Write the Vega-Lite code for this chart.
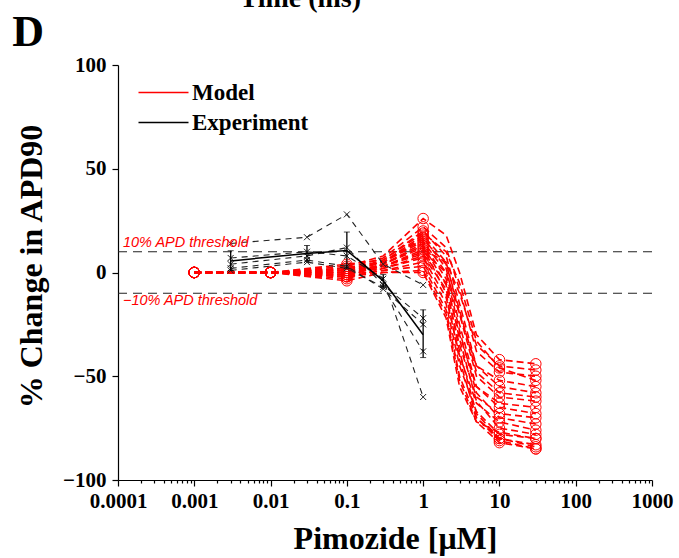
{
  "$schema": "https://vega.github.io/schema/vega-lite/v6.json",
  "width": 534,
  "height": 415,
  "autosize": {"type": "none"},
  "padding": {"left": 118, "top": 65, "right": 27, "bottom": 78},
  "background": "white",
  "config": {
    "view": {"stroke": null},
    "axis": {"grid": false, "domainColor": "black", "tickColor": "black", "labelColor": "black", "titleColor": "black", "labelFont": "Liberation Serif", "labelFontWeight": "bold", "labelFontSize": 21, "titleFont": "Liberation Serif", "titleFontWeight": "bold", "titleFontSize": 32, "tickSize": 6, "domainWidth": 1.2, "tickWidth": 1.2}
  },
  "datasets": {
    "model": [
      {"id":1,"c":0.001,"v":0},{"id":1,"c":0.01,"v":0},{"id":1,"c":0.1,"v":3},{"id":1,"c":0.3,"v":8},{"id":1,"c":1,"v":26},{"id":1,"c":2,"v":18},{"id":1,"c":3,"v":0},{"id":1,"c":5,"v":-30},{"id":1,"c":10,"v":-42},{"id":1,"c":30,"v":-44},
      {"id":2,"c":0.001,"v":0},{"id":2,"c":0.01,"v":0},{"id":2,"c":0.1,"v":2},{"id":2,"c":0.3,"v":7},{"id":2,"c":1,"v":22},{"id":2,"c":2,"v":12},{"id":2,"c":3,"v":-8},{"id":2,"c":5,"v":-38},{"id":2,"c":10,"v":-48},{"id":2,"c":30,"v":-50},
      {"id":3,"c":0.001,"v":0},{"id":3,"c":0.01,"v":0},{"id":3,"c":0.1,"v":1},{"id":3,"c":0.3,"v":6},{"id":3,"c":1,"v":20},{"id":3,"c":2,"v":8},{"id":3,"c":3,"v":-15},{"id":3,"c":5,"v":-45},{"id":3,"c":10,"v":-55},{"id":3,"c":30,"v":-58},
      {"id":4,"c":0.001,"v":0},{"id":4,"c":0.01,"v":0},{"id":4,"c":0.1,"v":2},{"id":4,"c":0.3,"v":5},{"id":4,"c":1,"v":18},{"id":4,"c":2,"v":5},{"id":4,"c":3,"v":-20},{"id":4,"c":5,"v":-50},{"id":4,"c":10,"v":-60},{"id":4,"c":30,"v":-62},
      {"id":5,"c":0.001,"v":0},{"id":5,"c":0.01,"v":0},{"id":5,"c":0.1,"v":0},{"id":5,"c":0.3,"v":5},{"id":5,"c":1,"v":17},{"id":5,"c":2,"v":2},{"id":5,"c":3,"v":-25},{"id":5,"c":5,"v":-55},{"id":5,"c":10,"v":-65},{"id":5,"c":30,"v":-68},
      {"id":6,"c":0.001,"v":0},{"id":6,"c":0.01,"v":0},{"id":6,"c":0.1,"v":1},{"id":6,"c":0.3,"v":5},{"id":6,"c":1,"v":15},{"id":6,"c":2,"v":0},{"id":6,"c":3,"v":-28},{"id":6,"c":5,"v":-58},{"id":6,"c":10,"v":-70},{"id":6,"c":30,"v":-73},
      {"id":7,"c":0.001,"v":0},{"id":7,"c":0.01,"v":0},{"id":7,"c":0.1,"v":-1},{"id":7,"c":0.3,"v":4},{"id":7,"c":1,"v":14},{"id":7,"c":2,"v":-3},{"id":7,"c":3,"v":-32},{"id":7,"c":5,"v":-62},{"id":7,"c":10,"v":-75},{"id":7,"c":30,"v":-78},
      {"id":8,"c":0.001,"v":0},{"id":8,"c":0.01,"v":0},{"id":8,"c":0.1,"v":0},{"id":8,"c":0.3,"v":4},{"id":8,"c":1,"v":13},{"id":8,"c":2,"v":-6},{"id":8,"c":3,"v":-38},{"id":8,"c":5,"v":-68},{"id":8,"c":10,"v":-80},{"id":8,"c":30,"v":-83},
      {"id":9,"c":0.001,"v":0},{"id":9,"c":0.01,"v":0},{"id":9,"c":0.1,"v":-2},{"id":9,"c":0.3,"v":4},{"id":9,"c":1,"v":12},{"id":9,"c":2,"v":-10},{"id":9,"c":3,"v":-42},{"id":9,"c":5,"v":-70},{"id":9,"c":10,"v":-81},{"id":9,"c":30,"v":-85},
      {"id":10,"c":0.001,"v":0},{"id":10,"c":0.01,"v":0},{"id":10,"c":0.1,"v":1},{"id":10,"c":0.3,"v":3},{"id":10,"c":1,"v":11},{"id":10,"c":2,"v":5},{"id":10,"c":3,"v":-10},{"id":10,"c":5,"v":-35},{"id":10,"c":10,"v":-45},{"id":10,"c":30,"v":-47},
      {"id":11,"c":0.001,"v":0},{"id":11,"c":0.01,"v":0},{"id":11,"c":0.1,"v":0},{"id":11,"c":0.3,"v":3},{"id":11,"c":1,"v":10},{"id":11,"c":2,"v":0},{"id":11,"c":3,"v":-20},{"id":11,"c":5,"v":-45},{"id":11,"c":10,"v":-52},{"id":11,"c":30,"v":-55},
      {"id":12,"c":0.001,"v":0},{"id":12,"c":0.01,"v":0},{"id":12,"c":0.1,"v":-1},{"id":12,"c":0.3,"v":3},{"id":12,"c":1,"v":9},{"id":12,"c":2,"v":-5},{"id":12,"c":3,"v":-30},{"id":12,"c":5,"v":-55},{"id":12,"c":10,"v":-63},{"id":12,"c":30,"v":-65},
      {"id":13,"c":0.001,"v":0},{"id":13,"c":0.01,"v":0},{"id":13,"c":0.1,"v":-3},{"id":13,"c":0.3,"v":2},{"id":13,"c":1,"v":8},{"id":13,"c":2,"v":-8},{"id":13,"c":3,"v":-35},{"id":13,"c":5,"v":-60},{"id":13,"c":10,"v":-68},{"id":13,"c":30,"v":-70},
      {"id":14,"c":0.001,"v":0},{"id":14,"c":0.01,"v":0},{"id":14,"c":0.1,"v":0},{"id":14,"c":0.3,"v":2},{"id":14,"c":1,"v":7},{"id":14,"c":2,"v":-12},{"id":14,"c":3,"v":-40},{"id":14,"c":5,"v":-63},{"id":14,"c":10,"v":-72},{"id":14,"c":30,"v":-76},
      {"id":15,"c":0.001,"v":0},{"id":15,"c":0.01,"v":0},{"id":15,"c":0.1,"v":-2},{"id":15,"c":0.3,"v":1},{"id":15,"c":1,"v":5},{"id":15,"c":2,"v":-15},{"id":15,"c":3,"v":-45},{"id":15,"c":5,"v":-67},{"id":15,"c":10,"v":-78},{"id":15,"c":30,"v":-80},
      {"id":16,"c":0.001,"v":0},{"id":16,"c":0.01,"v":0},{"id":16,"c":0.1,"v":-1},{"id":16,"c":0.3,"v":1},{"id":16,"c":1,"v":3},{"id":16,"c":2,"v":-18},{"id":16,"c":3,"v":-50},{"id":16,"c":5,"v":-70},{"id":16,"c":10,"v":-80},{"id":16,"c":30,"v":-84},
      {"id":17,"c":0.001,"v":0},{"id":17,"c":0.01,"v":0},{"id":17,"c":0.1,"v":-4},{"id":17,"c":0.3,"v":0},{"id":17,"c":1,"v":1},{"id":17,"c":2,"v":-20},{"id":17,"c":3,"v":-52},{"id":17,"c":5,"v":-72},{"id":17,"c":10,"v":-82},{"id":17,"c":30,"v":-85},
      {"id":18,"c":0.001,"v":0},{"id":18,"c":0.01,"v":0},{"id":18,"c":0.1,"v":-2},{"id":18,"c":0.3,"v":0},{"id":18,"c":1,"v":0},{"id":18,"c":2,"v":-22},{"id":18,"c":3,"v":-55},{"id":18,"c":5,"v":-72},{"id":18,"c":10,"v":-77},{"id":18,"c":30,"v":-80},
      {"id":19,"c":0.001,"v":0},{"id":19,"c":0.01,"v":0},{"id":19,"c":0.1,"v":4},{"id":19,"c":0.3,"v":6},{"id":19,"c":1,"v":19},{"id":19,"c":2,"v":10},{"id":19,"c":3,"v":-5},{"id":19,"c":5,"v":-33},{"id":19,"c":10,"v":-46},{"id":19,"c":30,"v":-52},
      {"id":20,"c":0.001,"v":0},{"id":20,"c":0.01,"v":0},{"id":20,"c":0.1,"v":2},{"id":20,"c":0.3,"v":5},{"id":20,"c":1,"v":16},{"id":20,"c":2,"v":4},{"id":20,"c":3,"v":-18},{"id":20,"c":5,"v":-48},{"id":20,"c":10,"v":-58},{"id":20,"c":30,"v":-60}
    ],
    "exp": [
      {"id":1,"c":0.003,"v":14},{"id":1,"c":0.03,"v":17},{"id":1,"c":0.1,"v":28},{"id":1,"c":0.3,"v":4},{"id":1,"c":1,"v":-6},
      {"id":2,"c":0.003,"v":7},{"id":2,"c":0.03,"v":10},{"id":2,"c":0.1,"v":8},{"id":2,"c":0.3,"v":-3},{"id":2,"c":1,"v":-60},
      {"id":3,"c":0.003,"v":4},{"id":3,"c":0.03,"v":8},{"id":3,"c":0.1,"v":12},{"id":3,"c":0.3,"v":-6},{"id":3,"c":1,"v":-22},
      {"id":4,"c":0.003,"v":2},{"id":4,"c":0.03,"v":6},{"id":4,"c":0.1,"v":3},{"id":4,"c":0.3,"v":-8},{"id":4,"c":1,"v":-25},
      {"id":5,"c":0.003,"v":1},{"id":5,"c":0.03,"v":5},{"id":5,"c":0.1,"v":2},{"id":5,"c":0.3,"v":-7},{"id":5,"c":1,"v":-38}
    ],
    "mean": [
      {"c":0.003,"m":5.6,"lo":1,"hi":10.5},
      {"c":0.03,"m":9.2,"lo":5.5,"hi":13},
      {"c":0.1,"m":10.6,"lo":2,"hi":19.5},
      {"c":0.3,"m":-4,"lo":-7,"hi":-1},
      {"c":1,"m":-30,"lo":-41,"hi":-18}
    ],
    "thr": [{"t":10,"label":"10% APD threshold"},{"t":-10,"label":"−10% APD threshold"}],
    "labels": [{"name":"D"},{"name":"Time (ms)"}]
  },
  "layer": [
    {
      "data": {"name": "thr"},
      "mark": {"type": "rule", "strokeDash": [9, 6], "color": "#222222", "strokeWidth": 1.2},
      "encoding": {
        "y": {"field": "t", "type": "quantitative", "scale": {"domain": [-100, 100], "nice": false},
          "axis": {"values": [-100, -50, 0, 50, 100], "title": "% Change in APD90", "titleX": -70, "titleY": 201, "labelPadding": 6}}
      }
    },
    {
      "data": {"name": "model"},
      "mark": {"type": "line", "strokeDash": [7, 4], "strokeWidth": 1.6},
      "encoding": {
        "x": {"field": "c", "type": "quantitative",
          "scale": {"type": "log", "domain": [0.0001, 1000], "nice": false},
          "axis": {"orient": "bottom", "title": "Pimozide [μM]", "titleX": 277,
            "values": [0.0001,0.0002,0.0003,0.0004,0.0005,0.0006,0.0007,0.0008,0.0009,0.001,0.002,0.003,0.004,0.005,0.006,0.007,0.008,0.009,0.01,0.02,0.03,0.04,0.05,0.06,0.07,0.08,0.09,0.1,0.2,0.3,0.4,0.5,0.6,0.7,0.8,0.9,1,2,3,4,5,6,7,8,9,10,20,30,40,50,60,70,80,90,100,200,300,400,500,600,700,800,900,1000],
            "labelExpr": "abs(log(datum.value)/LN10 - round(log(datum.value)/LN10)) < 1e-6 ? toString(datum.value) : ''",
            "tickSize": {"condition": {"test": "abs(log(datum.value)/LN10 - round(log(datum.value)/LN10)) < 1e-6", "value": 6}, "value": 3},
            "labelOverlap": false, "labelFlush": false, "labelPadding": 4, "titlePadding": 12}},
        "y": {"field": "v", "type": "quantitative", "title": "% Change in APD90"},
        "detail": {"field": "id"},
        "color": {"datum": "Model", "type": "nominal",
          "scale": {"domain": ["Model", "Experiment"], "range": ["#ff0000", "#000000"]},
          "legend": {"orient": "none", "legendX": 34, "legendY": 16, "title": null, "symbolType": "M-2.5,0H2.5", "symbolSize": 400, "symbolStrokeWidth": 1.3, "symbolDash": [], "symbolFillColor": "transparent", "labelFont": "Liberation Serif", "labelFontWeight": "bold", "labelFontSize": 23, "labelColor": "black", "labelOffset": 17, "padding": 0, "rowPadding": 6}}
      }
    },
    {
      "data": {"name": "model"},
      "transform": [{"filter": {"field": "c", "oneOf": [0.001, 0.01, 0.1, 1, 10, 30]}}],
      "mark": {"type": "point", "shape": "circle", "size": 110, "stroke": "#ff0000", "strokeWidth": 1, "filled": false, "opacity": 1},
      "encoding": {
        "x": {"field": "c", "type": "quantitative", "title": "Pimozide [μM]"},
        "y": {"field": "v", "type": "quantitative", "title": "% Change in APD90"}
      }
    },
    {
      "data": {"name": "exp"},
      "mark": {"type": "line", "strokeDash": [6, 5], "strokeWidth": 1.1, "color": "#222222"},
      "encoding": {
        "x": {"field": "c", "type": "quantitative", "title": "Pimozide [μM]"},
        "y": {"field": "v", "type": "quantitative", "title": "% Change in APD90"},
        "detail": {"field": "id"}
      }
    },
    {
      "data": {"name": "exp"},
      "mark": {"type": "point", "shape": "M-1,-1L1,1M-1,1L1,-1", "size": 36, "stroke": "#222222", "strokeWidth": 1, "filled": false, "opacity": 1},
      "encoding": {
        "x": {"field": "c", "type": "quantitative", "title": "Pimozide [μM]"},
        "y": {"field": "v", "type": "quantitative", "title": "% Change in APD90"}
      }
    },
    {
      "data": {"name": "mean"},
      "mark": {"type": "line", "strokeWidth": 1.5},
      "encoding": {
        "x": {"field": "c", "type": "quantitative", "title": "Pimozide [μM]"},
        "y": {"field": "m", "type": "quantitative", "title": "% Change in APD90"},
        "color": {"datum": "Experiment", "type": "nominal"}
      }
    },
    {
      "data": {"name": "mean"},
      "mark": {"type": "errorbar", "ticks": {"size": 6, "color": "black"}, "rule": {"color": "black", "strokeWidth": 1.3}},
      "encoding": {
        "x": {"field": "c", "type": "quantitative", "title": "Pimozide [μM]"},
        "y": {"field": "lo", "type": "quantitative", "title": "% Change in APD90"},
        "y2": {"field": "hi"}
      }
    },
    {
      "data": {"name": "thr"},
      "transform": [{"filter": "datum.t > 0"}],
      "mark": {"type": "text", "align": "left", "baseline": "alphabetic", "dy": -5, "font": "Liberation Sans", "fontStyle": "italic", "fontSize": 14.5, "color": "#ff0000"},
      "encoding": {
        "x": {"datum": 0.000116, "type": "quantitative"},
        "y": {"field": "t", "type": "quantitative", "title": "% Change in APD90"},
        "text": {"field": "label"}
      }
    },
    {
      "data": {"name": "thr"},
      "transform": [{"filter": "datum.t < 0"}],
      "mark": {"type": "text", "align": "left", "baseline": "top", "dy": 1, "font": "Liberation Sans", "fontStyle": "italic", "fontSize": 14.5, "color": "#ff0000"},
      "encoding": {
        "x": {"datum": 0.000116, "type": "quantitative"},
        "y": {"field": "t", "type": "quantitative", "title": "% Change in APD90"},
        "text": {"field": "label"}
      }
    },
    {
      "data": {"name": "labels"},
      "transform": [{"filter": "datum.name == 'D'"}],
      "mark": {"type": "text", "font": "Liberation Serif", "fontWeight": "bold", "fontSize": 44, "baseline": "alphabetic", "align": "left", "color": "black"},
      "encoding": {
        "x": {"datum": 0.0000041, "type": "quantitative"},
        "y": {"datum": 109.2, "type": "quantitative"},
        "text": {"field": "name"}
      }
    },
    {
      "data": {"name": "labels"},
      "transform": [{"filter": "datum.name != 'D'"}],
      "mark": {"type": "text", "font": "Liberation Serif", "fontWeight": "bold", "fontSize": 28, "baseline": "alphabetic", "align": "center", "color": "black"},
      "encoding": {
        "x": {"datum": 0.0245, "type": "quantitative"},
        "y": {"datum": 128, "type": "quantitative"},
        "text": {"field": "name"}
      }
    }
  ]
}
